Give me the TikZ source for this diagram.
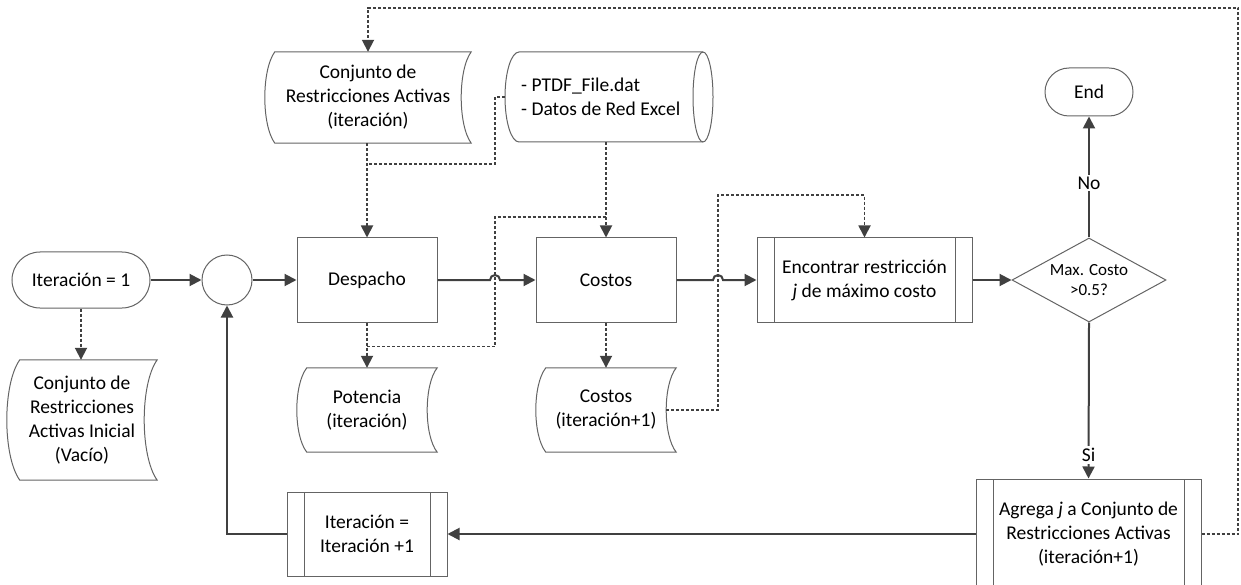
\documentclass[tikz,border=0pt]{standalone}
\usepackage{fontspec}
\setmainfont{Carlito}
\usetikzlibrary{arrows.meta,shapes.geometric,shapes.misc,calc}
\definecolor{lineclr}{RGB}{64,64,64}
\definecolor{edgeclr}{RGB}{100,100,100}

% Outline of a "stored data" symbol around a node: both sides are arcs
% bowing to the left; #2 is the depth of the arcs.
\newcommand\storedoutline[2]{%
  \draw[shapeline]
    ($(#1.north west)+(#2,0)$) -- (#1.north east)
    .. controls ($(#1.north east)!0.2!(#1.south east)+(-1.333*#2,0)$)
       and ($(#1.north east)!0.8!(#1.south east)+(-1.333*#2,0)$) .. (#1.south east)
    -- ($(#1.south west)+(#2,0)$)
    .. controls ($(#1.south west)!0.2!(#1.north west)+(-0.333*#2,0)$)
       and ($(#1.south west)!0.8!(#1.north west)+(-0.333*#2,0)$) .. cycle;}

\begin{document}
\begin{tikzpicture}[x=1pt,y=-1pt,
  font=\fontsize{19.5}{24}\selectfont,
  shapeline/.style={draw=edgeclr, line width=1pt},
  proc/.style={shapeline, fill=white, rectangle, align=center, inner sep=2pt},
  predef/.style={proc, path picture={
      \draw[edgeclr, line width=1pt]
        ([xshift=17pt]path picture bounding box.north west) -- ([xshift=17pt]path picture bounding box.south west)
        ([xshift=-17pt]path picture bounding box.north east) -- ([xshift=-17pt]path picture bounding box.south east);}},
  term/.style={shapeline, fill=white, rounded rectangle, align=center, inner sep=2pt},
  datatext/.style={rectangle, align=center, inner sep=2pt},
  link/.style={draw=lineclr, line width=2pt},
  dlink/.style={draw=lineclr, line width=1.8pt, dash pattern=on 3pt off 2pt},
  tip/.style={-{Triangle[length=12pt,width=12pt]}},
  lbl/.style={fill=white, inner sep=2pt}
]
\fill[white] (0,0) rectangle (1241,585);
\useasboundingbox (0,0) rectangle (1241,585);

% ---- process nodes ----
\node[term, minimum width=142pt, minimum height=56pt] (it1) at (81,280) {Iteración = 1};
\node[shapeline, fill=white, circle, minimum size=50pt, inner sep=0pt] (circ) at (227,280) {};
\node[proc, minimum width=140pt, minimum height=84pt] (desp) at (367,280) {Despacho};
\node[proc, minimum width=140pt, minimum height=84pt] (costos) at (606,280) {Costos};
\node[predef, minimum width=215pt, minimum height=84pt] (enc) at (864.5,280)
  {Encontrar restricción\\\textit{j} de máximo costo};
\node[shapeline, fill=white, diamond, aspect=1.833, minimum width=154pt, minimum height=84pt,
  inner sep=0pt, align=center, font=\fontsize{17}{20}\selectfont] (dec) at (1089,280) {Max. Costo\\>0.5?};
\node[term, minimum width=92pt, minimum height=48pt] (endn) at (1089,92) {End};
\node[predef, minimum width=225pt, minimum height=110pt] (agrega) at (1088.5,534)
  {Agrega \textit{j} a Conjunto de\\Restricciones Activas\\(iteración+1)};
\node[predef, minimum width=160pt, minimum height=84pt] (iter2) at (367,534)
  {Iteración =\\Iteración +1};

% ---- data nodes ----
\node[datatext, minimum width=150pt, minimum height=120pt] (inic) at (82,420)
  {Conjunto de\\Restricciones\\Activas Inicial\\(Vacío)};
\storedoutline{inic}{13pt}
\node[datatext, minimum width=206pt, minimum height=91pt] (conj) at (368,97.5)
  {Conjunto de\\Restricciones Activas\\(iteración)};
\storedoutline{conj}{10pt}
\node[datatext, minimum width=140pt, minimum height=84pt] (pot) at (367,410)
  {Potencia\\(iteración)};
\storedoutline{pot}{10pt}
\node[datatext, minimum width=140pt, minimum height=84pt] (cost2) at (606,410)
  {Costos\\(iteración+1)};
\storedoutline{cost2}{10pt}

% ---- data file (horizontal cylinder) ----
\node[minimum width=208pt, minimum height=90pt, inner sep=0pt] (ptdf) at (609,97) {};
\draw[shapeline] (519,52) -- (703,52)
  arc[start angle=90, end angle=-90, x radius=10pt, y radius=45pt] -- (519,142)
  arc[start angle=270, end angle=90, x radius=14pt, y radius=45pt] -- cycle;
\draw[shapeline] (703,52) arc[start angle=90, end angle=270, x radius=10pt, y radius=45pt];
\node[datatext, align=left, anchor=west] (ptdftxt) at (519,97) {- PTDF\_File.dat\\- Datos de Red Excel};

% ---- junction points of the dashed data lines ----
\coordinate (jA) at (495,164);
\coordinate (jC) at (495,217);
\coordinate (jD) at ($(desp.south)+(0,24)$);
\coordinate (jE) at (718,195);
\coordinate (jF) at (1238,8);

% ---- solid control flow ----
\draw[link, tip] (it1.east) -- (circ.west);
\draw[link, tip] (circ.east) -- (desp.west);
\draw[link, tip] (desp.east) -- ($(jC |- desp.east)+(-5pt,0)$)
  arc[start angle=180, end angle=0, radius=5pt] -- (costos.west);
\draw[link, tip] (costos.east) -- ($(jE |- costos.east)+(-5pt,0)$)
  arc[start angle=180, end angle=0, radius=5pt] -- (enc.west);
\draw[link, tip] (enc.east) -- (dec.west);
\draw[link, tip] (dec.north) -- node[lbl, pos=0.45] (no) {No} (endn.south);
\draw[link, tip] (dec.south) -- node[lbl, pos=0.85] (si) {Si} (agrega.north);
\draw[link, tip] (agrega.west) -- (iter2.east);
\draw[link, tip] (iter2.west) -| (circ.south);

% ---- dashed data flow ----
\draw[dlink, tip] (it1.south) -- (it1.south |- inic.north);
\draw[dlink, tip] (desp.north |- conj.south) -- (desp.north);
\draw[dlink] (ptdf.west) -| (jA) -- (jA -| desp.north);
\draw[dlink, tip] (costos.north |- ptdf.south) -- (costos.north);
\draw[dlink, tip] (desp.south) -- (desp.south |- pot.north);
\draw[dlink] (jD) -- (jD -| jC) -- (jC) -- (jC -| costos.north);
\draw[dlink, tip] (costos.south) -- (costos.south |- cost2.north);
\draw[dlink, tip] ($(cost2.east)+(-10pt,0)$) -| (jE) -| (enc.north);
\draw[dlink, tip] (agrega.east) -| (jF) -| (conj.north);
\end{tikzpicture}
\end{document}
